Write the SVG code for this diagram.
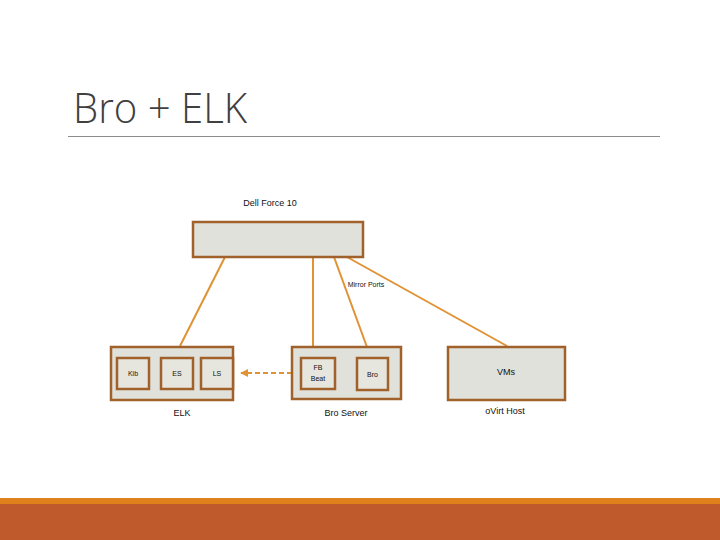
<svg xmlns="http://www.w3.org/2000/svg" width="720" height="540" viewBox="0 0 720 540">
<style>
.box{fill:#E0E1DA;stroke:#A0622A;stroke-width:2.5}
.inner{fill:#E6E6DF;stroke:#A0622A;stroke-width:2.5}
.ln{stroke:#E09234;stroke-width:2;fill:none}
.t{font-family:"Liberation Sans",Arial,sans-serif;font-size:9px;fill:#111;text-anchor:middle}
.s{font-size:7px}
</style>
<defs>
<marker id="ah" viewBox="0 0 10 10" refX="9" refY="5" markerWidth="4" markerHeight="4" orient="auto">
<path d="M0,0 L10,5 L0,10 z" fill="#E09234"/>
</marker>
</defs>
<rect width="720" height="540" fill="#fff"/>
<text x="73" y="123" font-family="'Open Sans','Liberation Sans',sans-serif" font-weight="300" font-size="42" fill="#404040" textLength="174" lengthAdjust="spacingAndGlyphs">Bro + ELK</text>
<line x1="68" y1="136.5" x2="660" y2="136.5" stroke="#8C8C8C" stroke-width="1"/>
<rect x="0" y="498" width="720" height="6" fill="#E0821C"/>
<rect x="0" y="504" width="720" height="36" fill="#BE5A2C"/>
<g id="connectors">
<line class="ln" x1="225" y1="257" x2="180" y2="346"/>
<line class="ln" x1="313" y1="257" x2="313" y2="346"/>
<line class="ln" x1="334" y1="257" x2="371" y2="358"/>
<line class="ln" x1="347" y1="257" x2="507" y2="346"/>
<line class="ln" x1="161" y1="373" x2="150" y2="373" marker-end="url(#ah)"/>
<line class="ln" x1="357" y1="373.5" x2="336" y2="373.5" marker-end="url(#ah)"/>
<line class="ln" x1="292" y1="373" x2="241" y2="373" stroke-dasharray="5,3" marker-end="url(#ah)"/>
</g>
<g id="switch">
<text class="t" x="270" y="206">Dell Force 10</text>
<rect class="box" x="193" y="222" width="170" height="35"/>
</g>
<text class="t s" x="366" y="287">Mirror Ports</text>
<g id="elk">
<rect class="box" x="111" y="347" width="122" height="53"/>
<text class="t" x="182" y="416">ELK</text>
</g>
<g id="kib">
<rect class="inner" x="117" y="358" width="32" height="31"/>
<text class="t s" x="133" y="376">Kib</text>
</g>
<g id="es">
<rect class="inner" x="161" y="358" width="32" height="31"/>
<text class="t s" x="177" y="376">ES</text>
</g>
<g id="ls">
<rect class="inner" x="201" y="358" width="32" height="31"/>
<text class="t s" x="217" y="376">LS</text>
</g>
<g id="broserver">
<rect class="box" x="292" y="347" width="109" height="52"/>
<text class="t" x="346" y="416">Bro Server</text>
</g>
<g id="fbbeat">
<rect class="inner" x="301" y="358" width="34" height="31"/>
<text class="t s" x="318" y="370">FB</text>
<text class="t s" x="318" y="381">Beat</text>
</g>
<g id="bro">
<rect class="inner" x="357" y="358" width="31" height="32"/>
<text class="t s" x="372.5" y="377">Bro</text>
</g>
<g id="ovirt">
<rect class="box" x="448" y="347" width="117" height="53"/>
<text class="t" x="506" y="375">VMs</text>
<text class="t" x="505" y="414">oVirt Host</text>
</g>
</svg>
